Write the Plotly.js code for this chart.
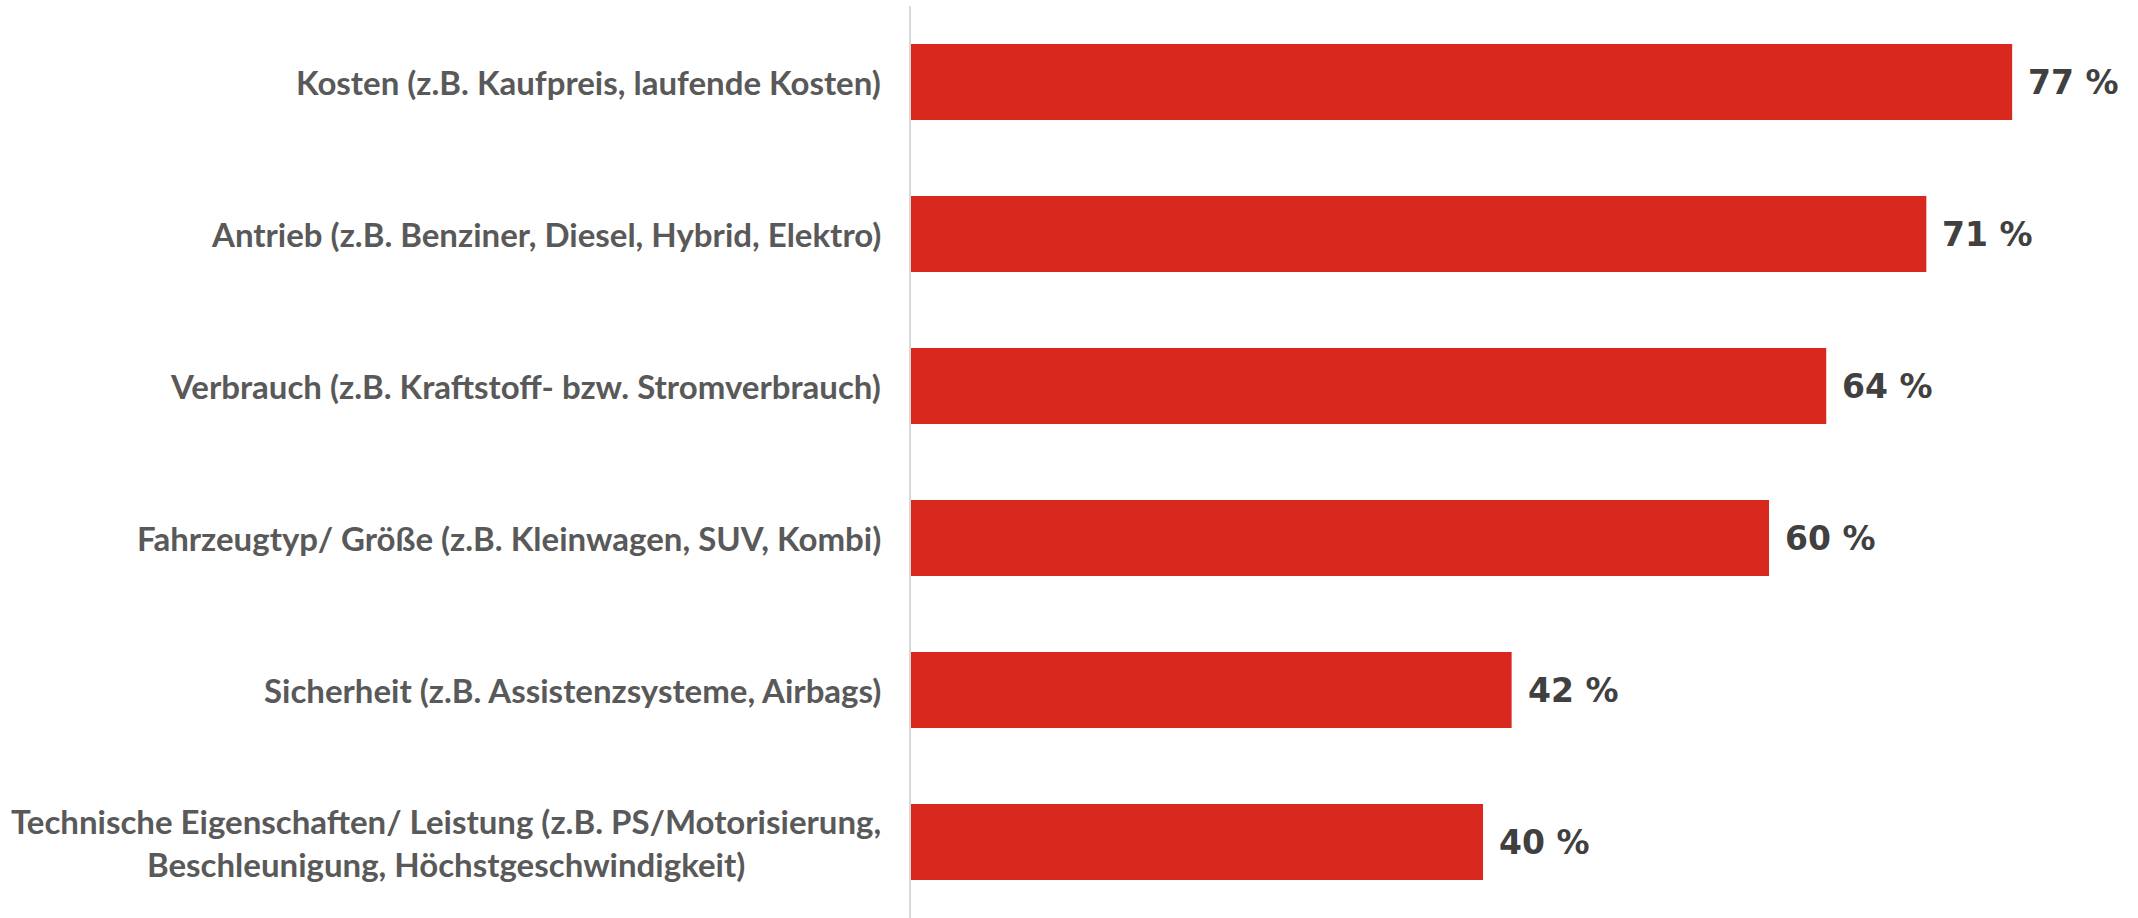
<!DOCTYPE html>
<html>
<head>
<meta charset="utf-8">
<script src="https://cdn.plot.ly/plotly-3.0.1.min.js"></script>
<style>html,body{margin:0;padding:0;background:#fff;}#chart{width:2138px;height:918px;}</style>
</head>
<body>
<div id="chart"></div>
<script>
const categories = [
  "Kosten (z.B. Kaufpreis, laufende Kosten)",
  "Antrieb (z.B. Benziner, Diesel, Hybrid, Elektro)",
  "Verbrauch (z.B. Kraftstoff- bzw. Stromverbrauch)",
  "Fahrzeugtyp/ Größe (z.B. Kleinwagen, SUV, Kombi)",
  "Sicherheit (z.B. Assistenzsysteme, Airbags)",
  "Technische Eigenschaften/ Leistung (z.B. PS/Motorisierung,<br>Beschleunigung, Höchstgeschwindigkeit)"
];
const values = [77, 71, 64, 60, 42, 40];
const valueLabels = ["77 %", "71 %", "64 %", "60 %", "42 %", "40 %"];

const catAnnotations = categories.map((c, i) => ({
  text: c, xref: 'paper', x: 0, yref: 'y', y: i,
  xanchor: 'right', yanchor: 'middle', xshift: -28, align: 'center',
  showarrow: false,
  font: {family: 'Lato, "Open Sans", sans-serif', size: 33, color: '#595959', weight: 700}
}));
const valAnnotations = values.map((v, i) => ({
  text: '<b>' + valueLabels[i] + '</b>', xref: 'x', x: v, yref: 'y', y: i,
  xanchor: 'left', yanchor: 'middle', xshift: 14, showarrow: false,
  font: {family: '"DejaVu Sans", sans-serif', size: 33, color: '#404040'}
}));

const trace = {
  type: 'bar', orientation: 'h',
  x: values, y: categories.map((c, i) => i),
  marker: {color: '#D9281E', line: {width: 0}},
  width: 0.5,
  hoverinfo: 'skip'
};

const layout = {
  width: 2138, height: 918,
  margin: {l: 911, r: 0, t: 6, b: 0, pad: 0},
  paper_bgcolor: '#ffffff', plot_bgcolor: '#ffffff',
  showlegend: false,
  xaxis: {range: [0, 85.8], showgrid: false, zeroline: false, showticklabels: false, ticks: '', showline: false},
  yaxis: {range: [5.5, -0.5], showgrid: false, zeroline: false, showticklabels: false, ticks: '',
          showline: true, linecolor: '#d9d9d9', linewidth: 2},
  annotations: catAnnotations.concat(valAnnotations)
};

Plotly.newPlot('chart', [trace], layout, {displayModeBar: false, staticPlot: true});
</script>
</body>
</html>
